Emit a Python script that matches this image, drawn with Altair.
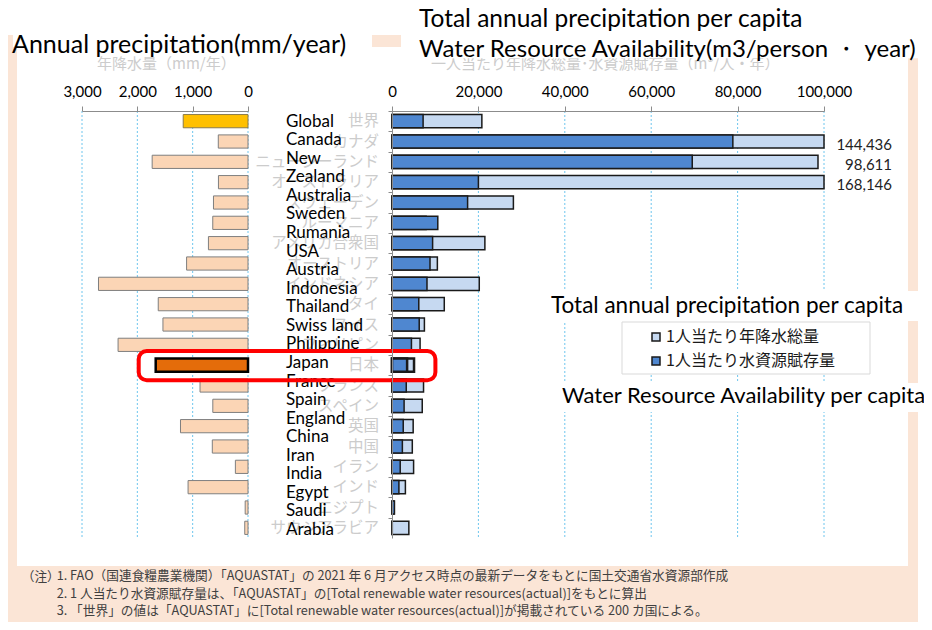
import altair as alt
import pandas as pd

# ---------------- data ----------------
countries = ["Global", "Canada", "New Zealand", "Australia", "Sweden", "Rumania", "USA",
             "Austria", "Indonesia", "Thailand", "Swiss land", "Philippine", "Japan", "France",
             "Spain", "England", "China", "Iran", "India", "Egypt", "Saudi Arabia"]
countries_jp = ["世界", "カナダ", "ニュージーランド", "オーストラリア", "スウェーデン", "ルーマニア",
                "アメリカ合衆国", "オーストリア", "インドネシア", "タイ", "スイス", "フィリピン", "日本",
                "フランス", "スペイン", "英国", "中国", "イラン", "インド", "エジプト", "サウジアラビア"]
precip_mm = [1171, 537, 1732, 534, 624, 637, 715, 1110, 2702, 1622, 1537, 2348, 1668, 867,
             636, 1220, 645, 228, 1083, 51, 59]
precip_per_capita = [20800, 144436, 98611, 168146, 28100, 7900, 21500, 10500, 20200, 12100,
                     7500, 6500, 5100, 7300, 7000, 4900, 4700, 5000, 3100, 450, 3900]
water_per_capita = [7200, 78900, 69500, 20000, 17500, 10600, 9400, 8800, 8100, 6200,
                    6300, 4500, 3500, 3300, 2800, 2600, 2400, 1900, 1600, 570, 70]
label_lines = ["Global", "Canada", "New", "Zealand", "Australia", "Sweden", "Rumania", "USA",
               "Austria", "Indonesia", "Thailand", "Swiss land", "Philippine", "Japan", "France",
               "Spain", "England", "China", "Iran", "India", "Egypt", "Saudi", "Arabia"]
left_ticks = [0, 1000, 2000, 3000]
right_ticks = [0, 20000, 40000, 60000, 80000, 100000]
right_grid = [20000, 40000, 60000, 80000, 100000]
series_names = ["1人当たり年降水総量", "1人当たり水資源賦存量"]
note_mark = "（注）"
notes = [
    "1. FAO（国連食糧農業機関）「AQUASTAT」の 2021 年 6 月アクセス時点の最新データをもとに国土交通省水資源部作成",
    "2. 1 人当たり水資源賦存量は、「AQUASTAT」の[Total renewable water resources(actual)]をもとに算出",
    "3. 「世界」の値は「AQUASTAT」に[Total renewable water resources(actual)]が掲載されている 200 カ国による。",
]

# ---------------- tables ----------------
base = pd.DataFrame({"country": countries, "jp": countries_jp, "precip": precip_mm,
                     "total": precip_per_capita, "avail": water_per_capita})
long_rows = []
for c, t, a in zip(countries, precip_per_capita, water_per_capita):
    long_rows.append({"country": c, "series": series_names[0], "value": t})
    long_rows.append({"country": c, "series": series_names[1], "value": a})
long_df = pd.DataFrame(long_rows)
lines_df = pd.DataFrame({"line": label_lines})
left_grid_df = pd.DataFrame({"v": left_ticks})
right_grid_df = pd.DataFrame({"v": right_grid})
one = pd.DataFrame({"d": [0]})

# ---------------- layout constants ----------------
W, H = 916, 614
LEFT_RANGE = [240, 74]
RIGHT_RANGE = [384, 816]
Y_RANGE = [103, 530]
PEACH = "#fbe5d6"
GRID = "#6ec6ee"
AXIS_GREY = "#8c8c8c"
EN_FONT = "Lato"
JP_FONT = "Noto Sans CJK JP"


def yband(axis=None):
    return alt.Y("country:N",
                 scale=alt.Scale(domain=countries, range=Y_RANGE, paddingInner=0.35, paddingOuter=0.175),
                 axis=axis)


left_scale = alt.Scale(domain=[0, 3000], range=LEFT_RANGE)
right_scale = alt.Scale(domain=[0, 100000], range=RIGHT_RANGE, clamp=True)


def top_axis(values):
    return alt.Axis(orient="top", offset=-103, values=values, format=",.0f", title=None,
                    labelFont=EN_FONT, labelFontSize=15, labelColor="#000000",
                    domainColor=AXIS_GREY, tickColor=AXIS_GREY, tickSize=5, labelPadding=7,
                    grid=False, labelFlush=False, labelOverlap=False, zindex=1)


def box(x, x2, y, y2, **kw):
    return alt.Chart(one).mark_rect(**kw).encode(
        x=alt.value(x), x2=alt.value(x2), y=alt.value(y), y2=alt.value(y2))


def label(text, x, y, **kw):
    return alt.Chart(one).mark_text(**kw).encode(
        x=alt.value(x), y=alt.value(y), text=alt.value(text))


# ---------------- decorations ----------------
frame = box(0, 910, 27, 614, fill=PEACH)
inner = box(9, 900, 39, 558, fill="white")
box_c = box(537, 916, 283, 313, fill="white")
box_d = box(548, 916, 375, 404, fill="white")

left_grid = alt.Chart(left_grid_df).mark_rule(color=GRID, strokeDash=[2, 2], strokeWidth=1).encode(
    x=alt.X("v:Q", scale=left_scale, axis=None), y=alt.value(Y_RANGE[0]), y2=alt.value(Y_RANGE[1]))
right_grid_l = alt.Chart(right_grid_df).mark_rule(color=GRID, strokeDash=[2, 2], strokeWidth=1).encode(
    x=alt.X("v:Q", scale=right_scale, axis=None), y=alt.value(Y_RANGE[0]), y2=alt.value(Y_RANGE[1]))

legend_frame = box(614, 862, 314, 366, fill="white", stroke="#d9d9d9", strokeWidth=1)

# ---------------- left bars ----------------
left_bars = alt.Chart(base).transform_calculate(
    kind="datum.country === 'Global' ? 'g' : (datum.country === 'Japan' ? 'j' : 'o')"
).mark_bar().encode(
    x=alt.X("precip:Q", scale=left_scale, axis=top_axis(left_ticks)),
    y=yband(),
    fill=alt.Fill("kind:N", scale=alt.Scale(domain=["g", "j", "o"],
                                            range=["#ffc000", "#e46c0a", "#fbd5b5"]), legend=None),
    stroke=alt.Stroke("kind:N", scale=alt.Scale(domain=["g", "j", "o"],
                                                range=["#8a7a4a", "#000000", "#7f7f7f"]), legend=None),
    strokeWidth=alt.condition("datum.country === 'Japan'", alt.value(2.5), alt.value(1)),
)

# ---------------- right bars ----------------
right_bars = alt.Chart(long_df).mark_bar(stroke="#1a1a1a").encode(
    x=alt.X("value:Q", scale=right_scale, stack=None, axis=top_axis(right_ticks)),
    y=yband(alt.Axis(orient="left", offset=-384, labels=False, title=None, grid=False,
                     domainColor=AXIS_GREY, tickColor=AXIS_GREY, tickSize=4,
                     bandPosition=0, tickOffset=-3.5, zindex=1)),
    fill=alt.Fill("series:N", scale=alt.Scale(domain=series_names, range=["#c6d9f1", "#4f87d0"]),
                  legend=alt.Legend(orient="none", legendX=640, legendY=321, title=None,
                                    symbolType="square", symbolSize=64,
                                    symbolStrokeColor="#1a1a1a", symbolStrokeWidth=1.5,
                                    labelFont=JP_FONT, labelFontSize=16, labelColor="#1a1a1a",
                                    rowPadding=8, padding=0, labelOffset=2, labelLimit=400)),
    strokeWidth=alt.condition("datum.country === 'Japan'", alt.value(2.5), alt.value(1.5)),
)

# ---------------- text ----------------
jp_labels = alt.Chart(base).mark_text(align="right", baseline="middle", font=JP_FONT,
                                      fontSize=15.5, color="#cccccc").encode(
    y=yband(), x=alt.value(371), text="jp:N")

en_labels = alt.Chart(lines_df).mark_text(align="left", baseline="middle", font=EN_FONT,
                                          fontSize=17, color="#000000").encode(
    y=alt.Y("line:N", scale=alt.Scale(type="point", domain=label_lines, range=[113.7, 522], padding=0),
            axis=None),
    x=alt.value(278), text="line:N")

value_labels = alt.Chart(base).transform_filter("datum.total > 90000").mark_text(
    align="right", baseline="middle", dy=3, font=EN_FONT, fontSize=15, color="#222222").encode(
    y=yband(), x=alt.value(884), text=alt.Text("total:Q", format=",.0f"))

jp_sub_left = label("年降水量（mm/年）", 89, 55.5, align="left", baseline="middle",
                    font=JP_FONT, fontSize=15, color="#cccccc")
jp_sub_right = label("一人当たり年降水総量･水資源賦存量（m³/人・年）", 423, 56, align="left",
                     baseline="middle", font=JP_FONT, fontSize=15, color="#cccccc")
box_a = box(5, 364, 20, 39, fill="white")
box_b = box(393, 916, 22, 50.3, fill="white")

title_left = label("Annual precipitation(mm/year)", 4, 45.3, align="left", baseline="alphabetic",
                   font=EN_FONT, fontSize=25, color="#000000")
title_r1 = label("Total annual precipitation per capita", 411, 19, align="left",
                 baseline="alphabetic", font=EN_FONT, fontSize=24.5, color="#000000")
title_r2 = label("Water Resource Availability(m3/person ・ year)", 411, 48.7, align="left",
                 baseline="alphabetic", font=EN_FONT, fontSize=24, color="#000000")
mid_1 = label("Total annual precipitation per capita", 543, 305, align="left",
              baseline="alphabetic", font=EN_FONT, fontSize=22.5, color="#000000")
mid_2 = label("Water Resource Availability per capita", 554, 395.3, align="left",
              baseline="alphabetic", font=EN_FONT, fontSize=22, color="#000000")

note_a = label(note_mark, 13.7, 568.7, align="left", baseline="middle", font=JP_FONT,
               fontSize=12.7, color="#404040")
note_b = label(notes, 48.7, 568.7 - 6.5, align="left", baseline="top", font=JP_FONT,
               fontSize=12.7, lineHeight=17.5, color="#404040")

red_box = box(130.7, 427.4, 343, 372.3, fill="transparent", stroke="#ff0000", strokeWidth=4,
              cornerRadius=8)

chart = alt.layer(
    frame, inner, left_grid, right_grid_l, box_c, box_d, legend_frame,
    left_bars, right_bars, jp_labels, en_labels, value_labels,
    jp_sub_left, jp_sub_right, box_a, box_b, title_left, title_r1, title_r2,
    mid_1, mid_2, note_a, note_b, red_box,
).resolve_scale(
    x="independent", y="independent", fill="independent", stroke="independent"
).properties(
    width=W, height=H, autosize=alt.AutoSizeParams(type="none"), padding=0
).configure_view(stroke="transparent")

chart.save("out.html", embed_options={"renderer": "svg", "actions": False})
